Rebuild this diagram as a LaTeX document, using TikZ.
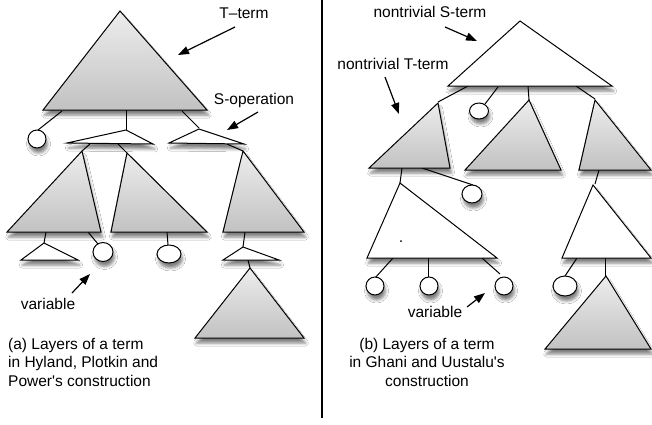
\documentclass[tikz,border=0pt]{standalone}
\usepackage{fontspec}
\setmainfont{Liberation Sans}
\usetikzlibrary{arrows.meta,shadows.blur}
\tikzset{
  sh/.style={blur shadow={shadow xshift=1.5pt,shadow yshift=-5pt,shadow blur radius=3pt,shadow opacity=50}},
  gtri/.style={draw=black,line width=1pt,line join=miter,top color=black!7,bottom color=black!24,sh},
  wtri/.style={draw=black,line width=1pt,fill=white,sh},
  var/.style={draw=black,line width=1pt,fill=white,sh},
  conn/.style={draw=black,line width=1pt},
  pointer/.style={draw=black,line width=1.2pt,-{Triangle[length=11pt,width=8pt]}},
  lbl/.style={font=\fontsize{15.5}{18.5}\selectfont,inner sep=0pt},
}
\begin{document}
\begin{tikzpicture}[x=1pt,y=-1pt]
\useasboundingbox (0,0) rectangle (652,424);
\fill[white] (0,0) rectangle (652,424);
% ---------------- left panel: connectors
\draw[conn] (62,111) -- (38,130);
\draw[conn] (126,110) -- (126,130);
\draw[conn] (182,111) -- (199,128);
\draw[conn] (90,144) -- (82,151);
\draw[conn] (118,144) -- (127,153);
\draw[conn] (227,144) -- (243,151);
\draw[conn] (46,232) -- (44,243);
\draw[conn] (88,232) -- (98,244);
\draw[conn] (167,232) -- (168,245);
\draw[conn] (245,232) -- (243,247);
\draw[conn] (248,260) -- (250,268);
% shapes
\path[gtri] (120,11) -- (43,110) -- (207,110) -- cycle;
\path[var] (37,139) circle [radius=9];
\path[wtri] (126,130) -- (67,143) -- (153,144) -- cycle;
\path[wtri] (199,129) -- (169,143) -- (244,144) -- cycle;
\path[gtri] (82,151) -- (7,232) -- (101,232) -- cycle;
\path[gtri] (127,153) -- (111,232) -- (207,232) -- cycle;
\path[gtri] (243,151) -- (223,232) -- (304,232) -- cycle;
\path[wtri] (44,243) -- (21,260) -- (78,260) -- cycle;
\path[var] (103,252) ellipse [x radius=10,y radius=9.5];
\path[var] (169,254) ellipse [x radius=12,y radius=9];
\path[wtri] (243,247) -- (223,260) -- (279,260) -- cycle;
\path[gtri] (250,268) -- (195,338) -- (304,338) -- cycle;
% labels
\node[lbl] (tterm) at (244,13) {T–term};
\node[lbl] (sop) at (254,100) {S-operation};
\node[lbl] (varA) at (48,304) {variable};
\node[lbl,align=left,anchor=north west] (capA) at (8,338) {(a) Layers of a term\\in Hyland, Plotkin and\\Power\textquotesingle s construction};
\coordinate (a1s) at (235,27); \coordinate (a1e) at (178,55);
\coordinate (a2s) at (258,112); \coordinate (a2e) at (227,130);
\coordinate (a3s) at (72,293); \coordinate (a3e) at (90,274);
\draw[pointer] (a1s) -- (a1e);
\draw[pointer] (a2s) -- (a2e);
\draw[pointer] (a3s) -- (a3e);
% divider
\coordinate (dtop) at (322,0); \coordinate (dbot) at (322,418);
\draw[line width=2pt] (dtop) -- (dbot);
% ---------------- right panel: connectors
\draw[conn] (468,86) -- (438,102);
\draw[conn] (498,87) -- (485,104);
\draw[conn] (528,86) -- (529,100);
\draw[conn] (576,86) -- (595,99);
\draw[conn] (402,168) -- (400,183);
\draw[conn] (422,168) -- (473,185);
\draw[conn] (393,258) -- (375,278);
\draw[conn] (428,258) -- (428,277);
\draw[conn] (482,258) -- (500,274);
\draw[conn] (599,170) -- (595,184);
\draw[conn] (577,258) -- (565,276);
\draw[conn] (605,258) -- (605,276);
% shapes
\path[wtri] (520,21) -- (448,86) -- (612,86) -- cycle;
\path[gtri] (438,103) -- (369,168) -- (450,168) -- cycle;
\path[var] (479,111) ellipse [x radius=9.5,y radius=8];
\path[gtri] (529,100) -- (465,170) -- (561,170) -- cycle;
\path[gtri] (595,100) -- (579,170) -- (651,170) -- cycle;
\path[wtri] (400,183) -- (367,258) -- (497,258) -- cycle;
\fill (401,241) circle [radius=1];
\path[var] (472,194) ellipse [x radius=10,y radius=9];
\path[var] (375,286) circle [radius=9];
\path[var] (429,286) circle [radius=9];
\path[var] (504,286) circle [radius=9];
\path[wtri] (593,185) -- (562,258) -- (651,258) -- cycle;
\path[var] (565,286) ellipse [x radius=12,y radius=10];
\path[gtri] (606,276) -- (545,349) -- (651,349) -- cycle;
% labels
\node[lbl] (sterm) at (430,12) {nontrivial S-term};
\node[lbl] (ntterm) at (393,64) {nontrivial T-term};
\node[lbl] (varB) at (435,312) {variable};
\node[lbl,align=center,anchor=north] (capB) at (427,338) {(b) Layers of a term\\in Ghani and Uustalu\textquotesingle s\\construction};
\coordinate (b1s) at (445,27); \coordinate (b1e) at (477,41);
\coordinate (b2s) at (385,77); \coordinate (b2e) at (399,114);
\coordinate (b3s) at (467,307); \coordinate (b3e) at (485,293);
\draw[pointer] (b1s) -- (b1e);
\draw[pointer] (b2s) -- (b2e);
\draw[pointer] (b3s) -- (b3e);
\end{tikzpicture}
\end{document}
